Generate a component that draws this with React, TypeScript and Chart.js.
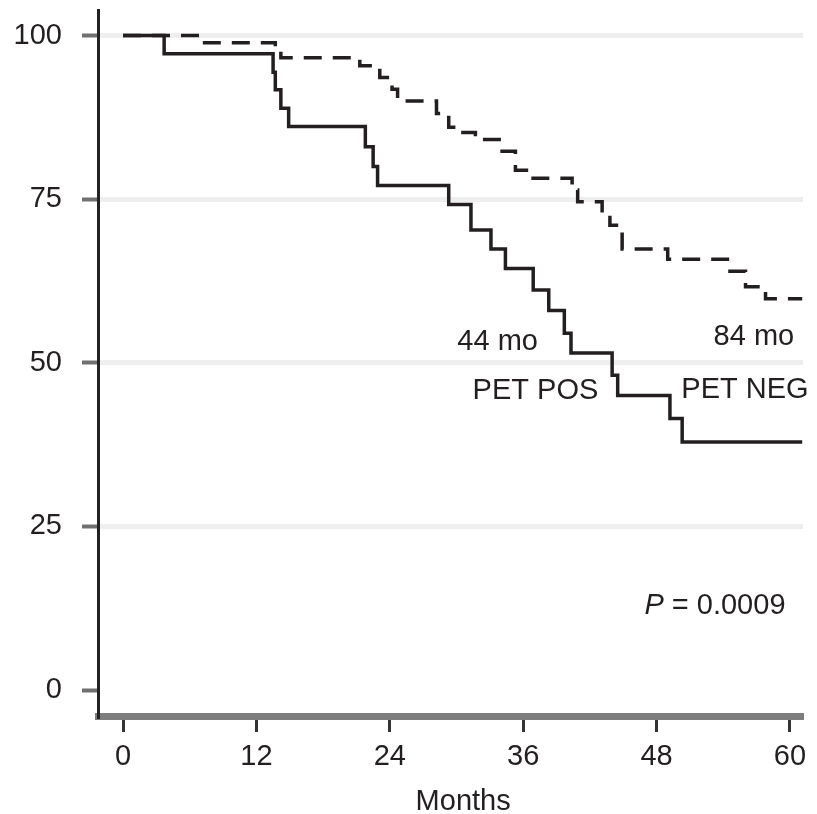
import React, { useEffect, useRef } from "react";
import { Chart, registerables } from "chart.js";

Chart.register(...registerables);

// ---- Data (Kaplan–Meier steps) ----
const posMonths = [0, 3.7, 13.5, 13.7, 14.2, 14.9, 21.8, 22.5, 22.9, 29.3, 31.3, 33.1, 34.4, 36.9, 38.3, 39.7, 40.3, 44.0, 44.5, 49.2, 50.3, 61.1];
const posSurvival = [100, 97.2, 94.4, 91.7, 88.9, 86.1, 83.0, 80.0, 77.1, 74.2, 70.3, 67.4, 64.4, 61.1, 58.0, 54.5, 51.5, 48.1, 45.0, 41.5, 37.9, 37.9];

const negMonths = [0, 7.1, 13.7, 14.2, 21.3, 23.1, 24.2, 24.7, 28.2, 29.3, 29.9, 31.7, 34.1, 35.3, 36.5, 40.4, 40.9, 43.1, 43.8, 44.9, 49.0, 54.6, 56.0, 57.8, 61.1];
const negSurvival = [100, 98.9, 97.7, 96.6, 95.4, 93.6, 91.8, 90.0, 88.1, 86.0, 85.2, 84.1, 82.3, 79.4, 78.2, 76.4, 74.6, 72.5, 71.0, 67.4, 65.8, 64.0, 61.6, 59.8, 59.8];

const xTicks = [0, 12, 24, 36, 48, 60];
const yTicks = [0, 25, 50, 75, 100];

const noteTexts = ["44 mo", "PET POS", "84 mo", "PET NEG"];
const noteMonths = [33.7, 37.1, 56.75, 55.95];
const noteValues = [53.2, 45.7, 54.0, 45.8];

const pLabel = "P";
const pValueText = " = 0.0009";
const pMonth = 53.25;
const pValue = 12.8;

const xTitle = "Months";
const xTitleMonth = 30.6;
const xTitleValue = -17.1;

const FONT = "'Liberation Sans', Arial, Helvetica, sans-serif";
const TEXT = "#231f20";
const LINE = "#231f20";

export default function App() {
  const ref = useRef<HTMLCanvasElement | null>(null);

  useEffect(() => {
    const canvas = ref.current;
    if (!canvas) return;

    const textPlugin = {
      id: "kmText",
      afterDatasetsDraw(chart: any) {
        const { ctx, scales } = chart;
        const xs = scales.x;
        const ys = scales.y;
        ctx.save();
        ctx.fillStyle = TEXT;
        ctx.textBaseline = "middle";
        ctx.textAlign = "center";
        ctx.font = `29px ${FONT}`;
        noteTexts.forEach((t, i) => {
          ctx.fillText(t, xs.getPixelForValue(noteMonths[i]), ys.getPixelForValue(noteValues[i]));
        });
        ctx.fillText(xTitle, xs.getPixelForValue(xTitleMonth), ys.getPixelForValue(xTitleValue));

        // P value with italic P
        const cx = xs.getPixelForValue(pMonth);
        const cy = ys.getPixelForValue(pValue);
        ctx.font = `italic 29px ${FONT}`;
        const wP = ctx.measureText(pLabel).width;
        ctx.font = `29px ${FONT}`;
        const wR = ctx.measureText(pValueText).width;
        const start = cx - (wP + wR) / 2;
        ctx.textAlign = "left";
        ctx.font = `italic 29px ${FONT}`;
        ctx.fillText(pLabel, start, cy);
        ctx.font = `29px ${FONT}`;
        ctx.fillText(pValueText, start + wP, cy);
        ctx.restore();
      },
    };

    const chart = new Chart(canvas, {
      type: "line",
      data: {
        datasets: [
          {
            label: "PET NEG",
            data: negMonths.map((m, i) => ({ x: m, y: negSurvival[i] })),
            borderColor: LINE,
            borderWidth: 3.5,
            borderDash: [18, 11],
            stepped: "before",
            pointRadius: 0,
            fill: false,
          },
          {
            label: "PET POS",
            data: posMonths.map((m, i) => ({ x: m, y: posSurvival[i] })),
            borderColor: LINE,
            borderWidth: 3.5,
            stepped: "before",
            pointRadius: 0,
            fill: false,
          },
        ],
      },
      options: {
        responsive: false,
        animation: false,
        devicePixelRatio: 1,
        layout: { padding: { left: 0, right: 14, top: 10, bottom: 0 } },
        plugins: {
          legend: { display: false },
          tooltip: { enabled: false },
        },
        scales: {
          x: {
            type: "linear",
            min: -2.25,
            max: 61.17,
            afterBuildTicks: (s: any) => {
              s.ticks = xTicks.map((v) => ({ value: v }));
            },
            afterFit: (s: any) => {
              s.height = 98;
              s.paddingLeft = 0;
              s.paddingRight = 0;
            },
            ticks: {
              color: TEXT,
              font: { family: FONT, size: 29 },
              padding: 8,
              maxRotation: 0,
              autoSkip: false,
            },
            grid: {
              drawOnChartArea: false,
              drawTicks: true,
              tickLength: 16,
              tickWidth: 3,
              tickColor: "#333333",
            },
            border: { display: true, color: "#7d7d7d", width: 7 },
          },
          y: {
            type: "linear",
            min: -3.97,
            max: 103.9,
            afterBuildTicks: (s: any) => {
              s.ticks = yTicks.map((v) => ({ value: v }));
            },
            afterFit: (s: any) => {
              s.width = 98;
              s.paddingTop = 0;
              s.paddingBottom = 0;
            },
            ticks: {
              color: TEXT,
              font: { family: FONT, size: 29 },
              padding: 20,
              autoSkip: false,
            },
            grid: {
              drawOnChartArea: true,
              drawTicks: true,
              color: (c: any) => (c.tick && c.tick.value === 0 ? "rgba(0,0,0,0)" : "#eeeeee"),
              lineWidth: 5,
              tickLength: 16,
              tickWidth: 4,
              tickColor: "#707070",
            },
            border: { display: true, color: "#222222", width: 3 },
          },
        },
      },
      plugins: [textPlugin],
    } as any);

    return () => chart.destroy();
  }, []);

  return (
    <div style={{ position: "fixed", left: 0, top: 0, width: 817, height: 814, background: "#fff" }}>
      <canvas ref={ref} width={817} height={814} style={{ display: "block" }} />
    </div>
  );
}
